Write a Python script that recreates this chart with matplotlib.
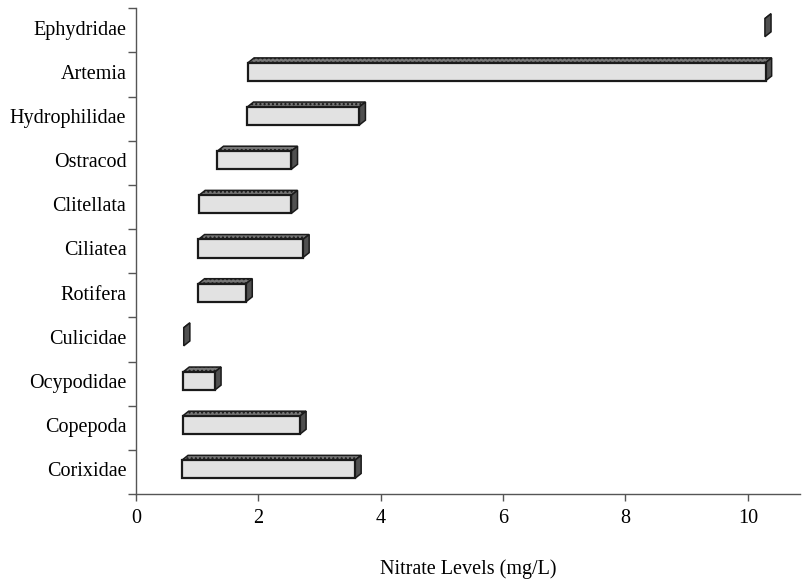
import numpy as np
import matplotlib.pyplot as plt
from matplotlib.patches import Polygon

# nitrate range per taxon (mg/L), bottom to top
taxa = ['Corixidae', 'Copepoda', 'Ocypodidae', 'Culicidae', 'Rotifera', 'Ciliatea',
        'Clitellata', 'Ostracod', 'Hydrophilidae', 'Artemia', 'Ephydridae']
low = [0.75, 0.76, 0.77, 0.78, 1.02, 1.02, 1.03, 1.33, 1.82, 1.83, 10.28]
high = [3.58, 2.68, 1.29, 0.78, 1.80, 2.73, 2.54, 2.54, 3.65, 10.29, 10.28]
xticks = [0, 2, 4, 6, 8, 10]

plt.rcParams['font.family'] = ['Liberation Serif', 'DejaVu Serif']

fig = plt.figure(figsize=(8.03, 5.86), dpi=100)
ax = fig.add_axes([0.1694, 0.157, 0.8266, 0.829])

n = len(taxa)
ypos = np.arange(n) + 0.06
h = 0.41
dx, dy = 0.10, 0.11

for y, lo, hi in zip(ypos, low, high):
    w = hi - lo
    y0, y1 = y - h / 2, y + h / 2
    # top face
    top = Polygon([(lo, y1), (hi, y1), (hi + dx, y1 + dy), (lo + dx, y1 + dy)],
                  closed=True, facecolor='#777777', edgecolor='#1a1a1a', lw=1.1,
                  hatch='....', zorder=2)
    ax.add_patch(top)
    # side face
    side = Polygon([(hi, y0), (hi + dx, y0 + dy), (hi + dx, y1 + dy), (hi, y1)],
                   closed=True, facecolor='#505050', edgecolor='#1a1a1a', lw=1.1,
                   zorder=2)
    ax.add_patch(side)
    if w > 0:
        ax.barh(y, w, left=lo, height=h, color='#e2e2e2', edgecolor='#1a1a1a',
                linewidth=1.6, zorder=3)

ax.set_xlim(0, 10.85)
ax.set_ylim(-0.5, n - 0.5)
ax.set_xticks(xticks)
ax.set_xticklabels([str(t) for t in xticks], fontsize=14.5)
ax.tick_params(axis='x', direction='out', length=5, width=1, color='#555555', pad=6)

ax.set_yticks(np.arange(n + 1) - 0.5)
ax.set_yticklabels([])
ax.tick_params(axis='y', which='major', direction='out', length=6, width=1, color='#555555')
ax.set_yticks(ypos, minor=True)
ax.set_yticklabels(taxa, minor=True, fontsize=14.5)
ax.tick_params(axis='y', which='minor', length=0, pad=7)

for s in ['top', 'right']:
    ax.spines[s].set_visible(False)
for s in ['left', 'bottom']:
    ax.spines[s].set_color('#555555')
    ax.spines[s].set_linewidth(1)

ax.set_xlabel('Nitrate Levels (mg/L)', fontsize=14.5, labelpad=22)

fig.savefig('out.png', dpi=100)
